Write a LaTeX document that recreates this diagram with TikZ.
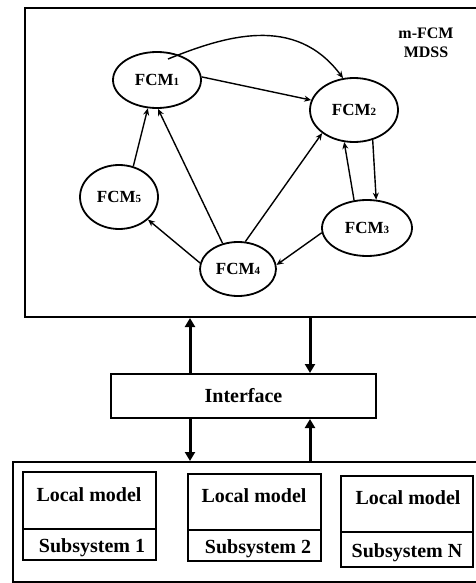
\documentclass[tikz,border=0pt]{standalone}
\usepackage{fontspec}
\setmainfont{Liberation Serif}
\usetikzlibrary{shapes.geometric,arrows.meta}
\begin{document}
\begin{tikzpicture}[x=1pt,y=-1pt,
  fcm/.style={draw,ellipse,line width=1.8pt,inner sep=0pt,font=\fontsize{17}{17}\selectfont\bfseries},
  thin arrow/.style={line width=1.4pt,-{Stealth[length=7pt,width=6pt]}},
  big arrow/.style={line width=3pt,-{Triangle[length=9pt,width=10pt]}},
  frame/.style={draw,line width=2pt,inner sep=0pt},
  lbl/.style={font=\fontsize{20}{20}\selectfont\bfseries,inner sep=0pt}]
\useasboundingbox (0,0) rectangle (476,583);
\clip (0,0) rectangle (476,583);
\newcommand{\dg}[1]{{\fontsize{11}{11}\selectfont #1}}
% top frame
\node[frame,minimum width=470pt,minimum height=309pt] (top) at (260,162.5) {};
\node[font=\fontsize{16}{19}\selectfont\bfseries,align=center] (title) at (426,43) {m-FCM\\MDSS};
% FCM ellipses
\node[fcm,minimum width=88pt,minimum height=56pt] (F1) at (157,80) {FCM\dg{1}};
\node[fcm,minimum width=88pt,minimum height=64pt] (F2) at (354,110) {FCM\dg{2}};
\node[fcm,minimum width=78pt,minimum height=64pt] (F5) at (119,197) {FCM\dg{5}};
\node[fcm,minimum width=90pt,minimum height=56pt] (F3) at (367,228) {FCM\dg{3}};
\node[fcm,minimum width=76pt,minimum height=54pt] (F4) at (238,269) {FCM\dg{4}};
% FCM arrows
\coordinate (c0) at (168,59);
\draw[thin arrow] (c0) .. controls (225,36) and (295,14) .. (F2.109);
\draw[thin arrow] (F1.4) -- (F2.167);
\draw[thin arrow] (F5.65) -- (F1.252);
\draw[thin arrow] (F4.121) -- (F1.272);
\draw[thin arrow] (F4.75) -- (F2.216);
\draw[thin arrow] (F3.115) -- (F2.253);
\draw[thin arrow] (F2.302) -- (F3.72);
\draw[thin arrow] (F3.186) -- (F4.6);
\draw[thin arrow] (F4.171) -- (F5.322);
% interface
\node[frame,minimum width=265pt,minimum height=44pt] (iface) at (243.5,396) {};
\node[lbl] (iftext) at (243.5,396) {Interface};
% bottom frame
\node[frame,minimum width=470pt,minimum height=120pt] (bot) at (248,522) {};
\coordinate (xl) at (190,400);
\coordinate (xr) at (310,400);
\draw[big arrow] (iface.north -| xl) -- (top.south -| xl);
\draw[big arrow] (top.south -| xr) -- (iface.north -| xr);
\draw[big arrow] (iface.south -| xl) -- (bot.north -| xl);
\draw[big arrow] (bot.north -| xr) -- (iface.south -| xr);
% subsystem boxes
\node[frame,minimum width=133pt,minimum height=57pt] (lm1) at (89.5,500.5) {};
\node[frame,minimum width=133pt,minimum height=31pt] (ss1) at (89.5,544.5) {};
\node[frame,minimum width=133pt,minimum height=56pt] (lm2) at (254.5,502) {};
\node[frame,minimum width=133pt,minimum height=31pt] (ss2) at (254.5,545.5) {};
\node[frame,minimum width=132pt,minimum height=56pt] (lm3) at (407,504) {};
\node[frame,minimum width=132pt,minimum height=35pt] (ss3) at (407,549.5) {};
\node[lbl] (t1) at (89,495) {Local model};
\node[lbl] (s1) at (92,548) {Subsystem 1};
\node[lbl] (t2) at (254,496) {Local model};
\node[lbl] (s2) at (258,549) {Subsystem 2};
\node[lbl] (t3) at (408,498) {Local model};
\node[lbl] (s3) at (407,553) {Subsystem N};
\end{tikzpicture}
\end{document}
